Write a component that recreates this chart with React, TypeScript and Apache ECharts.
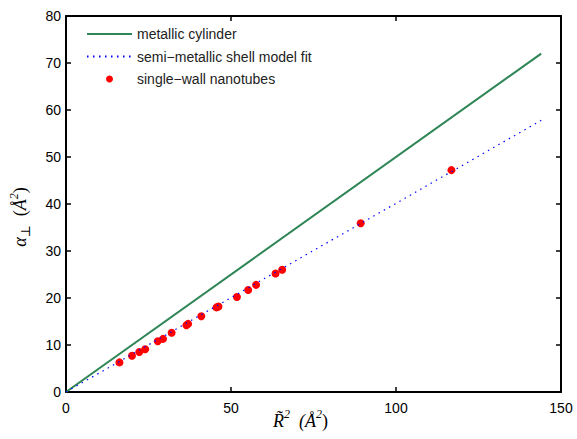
import React, { useEffect, useRef } from "react";
import * as echarts from "echarts";

// Data
const cylinderLine: [number, number][] = [[0, 0], [144, 72]];
const shellFitLine: [number, number][] = [[0, 0], [144, 57.8]];
const nanotubeX = [16.2, 20.0, 22.2, 24.0, 27.8, 29.4, 32.0, 36.5, 37.0, 41.0, 45.6, 46.2, 51.8, 55.2, 57.6, 63.5, 65.5, 89.3, 116.8];
const nanotubeY = [6.3, 7.7, 8.5, 9.1, 10.8, 11.3, 12.6, 14.2, 14.5, 16.1, 18.0, 18.2, 20.2, 21.7, 22.8, 25.2, 26.0, 35.9, 47.2];
const seriesNames = ["metallic cylinder", "semi\u2212metallic shell model fit", "single\u2212wall nanotubes"];
const xTicks = { min: 0, max: 150, interval: 50 };
const yTicks = { min: 0, max: 80, interval: 10 };

export default function App() {
  const ref = useRef<HTMLDivElement>(null);
  useEffect(() => {
    if (!ref.current) return;
    const chart = echarts.init(ref.current, undefined, { renderer: "svg" });
    const axisLine = { show: true, onZero: false, lineStyle: { color: "#000", width: 2 } };
    const tick = { show: true, inside: true, length: 5, lineStyle: { color: "#000", width: 1.5 } };
    const labelStyle = { color: "#000", fontSize: 14, fontFamily: "Liberation Sans, Arial, sans-serif" };
    const nanotubes = nanotubeX.map((x, i) => [x, nanotubeY[i]]);
    const serifItalic = { fontFamily: "Liberation Serif, DejaVu Serif, serif", fontStyle: "italic", color: "#000" };
    chart.setOption({
      animation: false,
      backgroundColor: "#fff",
      grid: { left: 66, right: 16, top: 16, bottom: 47, containLabel: false, outerBoundsMode: "none" },
      legend: {
        left: 81,
        top: 21,
        orient: "vertical",
        itemWidth: 45,
        itemHeight: 7,
        itemGap: 6.5,
        textStyle: { color: "#222", fontSize: 14, lineHeight: 16, fontFamily: "Liberation Sans, Arial, sans-serif" },
        data: [
          { name: seriesNames[0], itemStyle: { opacity: 0 } },
          { name: seriesNames[1], itemStyle: { opacity: 0 } },
          { name: seriesNames[2] },
        ],
      },
      xAxis: [
        {
          type: "value",
          ...xTicks,
          axisLine,
          axisTick: tick,
          splitLine: { show: false },
          axisLabel: { ...labelStyle, margin: 9 },
          name: "{r|R\u0303}{sup|2}{r|  (\u00C5}{sup|2}{p|)}",
          nameLocation: "middle",
          nameGap: 16,
          nameMoveOverlap: false,
          nameTextStyle: {
            padding: [0, 26, 0, 0],
            rich: {
              r: { ...serifItalic, fontSize: 18, lineHeight: 22, verticalAlign: "bottom" },
              sup: { ...serifItalic, fontSize: 12, lineHeight: 22, verticalAlign: "top" },
              p: { fontFamily: "Liberation Serif, serif", fontSize: 18, lineHeight: 22, color: "#000", verticalAlign: "bottom" },
            },
          },
        },
        {
          type: "value",
          position: "top",
          ...xTicks,
          axisLine,
          axisTick: tick,
          axisLabel: { show: false },
          splitLine: { show: false },
        },
      ],
      yAxis: [
        {
          type: "value",
          ...yTicks,
          axisLine,
          axisTick: tick,
          splitLine: { show: false },
          axisLabel: { ...labelStyle, margin: 5 },
          name: "{r|\u03B1}{sub|\u22A5}{p|  (}{r|\u00C5}{sup|2}{p|)}",
          nameLocation: "middle",
          nameGap: 34,
          nameMoveOverlap: false,
          nameTextStyle: {
            padding: [0, 26, 0, 0],
            rich: {
              r: { ...serifItalic, fontSize: 18, lineHeight: 24, verticalAlign: "middle" },
              sub: { ...serifItalic, fontStyle: "normal", fontSize: 13, lineHeight: 24, verticalAlign: "bottom" },
              sup: { ...serifItalic, fontSize: 12, lineHeight: 24, verticalAlign: "top" },
              p: { fontFamily: "Liberation Serif, serif", fontSize: 18, lineHeight: 24, color: "#000", verticalAlign: "middle" },
            },
          },
        },
        {
          type: "value",
          position: "right",
          ...yTicks,
          axisLine,
          axisTick: tick,
          axisLabel: { show: false },
          splitLine: { show: false },
        },
      ],
      series: [
        {
          name: seriesNames[0],
          type: "line",
          data: cylinderLine,
          symbol: "none",
          lineStyle: { color: "#2e8555", width: 2 },
          itemStyle: { color: "#2e8555" },
        },
        {
          name: seriesNames[1],
          type: "line",
          data: shellFitLine,
          symbol: "none",
          lineStyle: { color: "#0000ff", width: 1.2, type: [1.5, 4.5] },
          itemStyle: { color: "#0000ff" },
        },
        {
          name: seriesNames[2],
          type: "scatter",
          data: nanotubes,
          symbol: "circle",
          symbolSize: 8,
          itemStyle: { color: "#ff0000", opacity: 1 },
        },
      ],
    });
    return () => chart.dispose();
  }, []);
  return <div ref={ref} style={{ width: 577, height: 439, position: "absolute", left: 0, top: 0 }} />;
}
